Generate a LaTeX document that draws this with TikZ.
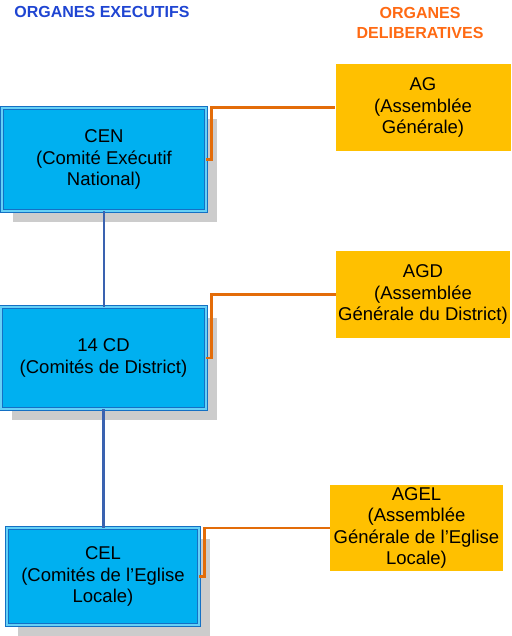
\documentclass[tikz,border=0pt]{standalone}
\usepackage{fontspec}
\setmainfont{Liberation Sans}
\usetikzlibrary{shadows}
\definecolor{exeblue}{HTML}{00B0F0}
\definecolor{exeborder}{HTML}{1470C4}
\definecolor{delorange}{HTML}{FFC000}
\definecolor{linkorange}{HTML}{E36C09}
\definecolor{linkblue}{HTML}{3A62B0}
\definecolor{titleblue}{HTML}{1F45D2}
\definecolor{titleorange}{HTML}{FF6A13}
\definecolor{shadowgray}{HTML}{CCCCCC}

\begin{document}
\begin{tikzpicture}[
    x=1pt, y=-1pt,
    exec_box/.style={rectangle, draw=exeborder, line width=0.9pt, double=exeblue!60!white, double distance=1.4pt, fill=exeblue, inner sep=0pt, align=center, font=\fontsize{18.5}{21.5}\selectfont, drop shadow={shadow xshift=11pt, shadow yshift=-11pt, fill=shadowgray, opacity=1}},
    delib_box/.style={rectangle, fill=delorange, inner sep=0pt, align=center, font=\fontsize{18.5}{21.5}\selectfont},
    title/.style={font=\bfseries\fontsize{16}{20}\selectfont, align=center},
    blue_link/.style={draw=linkblue, line width=2.5pt},
    orange_link/.style={draw=linkorange, line width=2.5pt}
]
\useasboundingbox (0,0) rectangle (511,636);

\node[title, text=titleblue] (exec) at (102,12) {ORGANES EXECUTIFS};
\node[title, text=titleorange] (delib) at (420,22.5) {ORGANES\\DELIBERATIVES};

\node[exec_box, minimum width=204pt, minimum height=103pt] (cen) at (104,159.5) {CEN\\(Comité Exécutif\\National)};
\node[exec_box, minimum width=205pt, minimum height=102pt] (cd) at (103.5,358) {14 CD\\(Comités de District)};
\node[exec_box, minimum width=192pt, minimum height=97pt] (cel) at (103,576.5) {CEL\\(Comités de l’Eglise\\Locale)};

\node[delib_box, minimum width=175pt, minimum height=87pt] (ag) at (423,107.5) {AG\\(Assemblée\\Générale)};
\node[delib_box, minimum width=174pt, minimum height=87pt] (agd) at (423,294.5) {AGD\\(Assemblée\\Générale du District)};
\node[delib_box, minimum width=173pt, minimum height=86pt] (agel) at (416.5,528) {AGEL\\(Assemblée\\Générale de l’Eglise\\Locale)};

\draw[blue_link] (cen.south) -- (cen.south |- cd.north);
\draw[blue_link] (cd.south) -- (cd.south |- cel.north);

\draw[orange_link] (cen.east) -- ++(5,0) |- (ag.west);
\draw[orange_link] (cd.east) -- ++(5,0) |- (agd.west);
\draw[orange_link] (cel.east) -- ++(5,0) |- (agel.west);

\end{tikzpicture}
\end{document}
